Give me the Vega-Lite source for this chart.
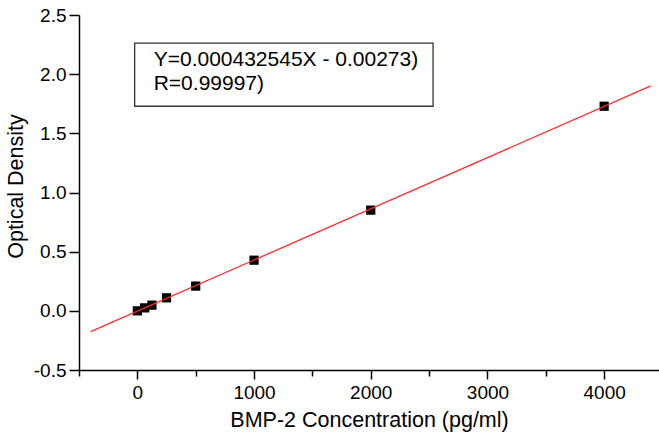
{
  "$schema": "https://vega.github.io/schema/vega-lite/v6.json",
  "width": 580,
  "height": 355,
  "autosize": "none",
  "padding": {"left": 79, "top": 15, "right": 0, "bottom": 67},
  "background": "white",
  "config": {
    "view": {"stroke": null},
    "font": "Liberation Sans",
    "axis": {
      "domainColor": "black",
      "domainWidth": 1.5,
      "tickColor": "black",
      "tickWidth": 1.5,
      "labelColor": "black",
      "titleColor": "black",
      "labelFont": "Liberation Sans",
      "titleFont": "Liberation Sans",
      "labelFontSize": 19,
      "titleFontSize": 21.5,
      "titleFontWeight": "normal",
      "grid": false,
      "labelOverlap": false,
      "labelFlush": false
    }
  },
  "datasets": {
    "points": [
      {"conc": 0, "od": 0.0},
      {"conc": 62.5, "od": 0.025},
      {"conc": 125, "od": 0.048},
      {"conc": 250, "od": 0.11},
      {"conc": 500, "od": 0.209},
      {"conc": 1000, "od": 0.428},
      {"conc": 2000, "od": 0.851},
      {"conc": 4000, "od": 1.729}
    ],
    "fit": [
      {"conc": -400, "od": -0.17575},
      {"conc": 4400, "od": 1.90047}
    ],
    "box": [
      {"conc": -23, "conc2": 2534, "od": 1.729, "od2": 2.263}
    ],
    "labels": [
      {"conc": 140, "od": 2.067, "label": "Y=0.000432545X - 0.00273)"},
      {"conc": 140, "od": 1.870, "label": "R=0.99997)"}
    ]
  },
  "layer": [
    {
      "data": {"name": "points"},
      "mark": {"type": "square", "filled": true, "color": "black", "size": 85, "opacity": 1},
      "encoding": {
        "x": {
          "field": "conc",
          "type": "quantitative",
          "scale": {"domain": [-500, 4470], "nice": false, "zero": false},
          "axis": {
            "title": "BMP-2 Concentration (pg/ml)",
            "values": [-500, 0, 500, 1000, 1500, 2000, 2500, 3000, 3500, 4000],
            "labelExpr": "datum.value % 1000 === 0 ? format(datum.value, 'd') : ''",
            "tickSize": {"condition": {"test": "datum.value % 1000 === 0", "value": 9}, "value": 6},
            "labelPadding": 4,
            "titlePadding": 7
          }
        },
        "y": {
          "field": "od",
          "type": "quantitative",
          "scale": {"domain": [-0.5, 2.5], "nice": false, "zero": false},
          "axis": {
            "title": "Optical Density",
            "values": [-0.5, -0.25, 0, 0.25, 0.5, 0.75, 1, 1.25, 1.5, 1.75, 2, 2.25, 2.5],
            "labelExpr": "abs(datum.value * 2 - round(datum.value * 2)) < 0.000001 ? replace(format(datum.value, '.1f'), '\u2212', '-') : ''",
            "tickSize": {"condition": {"test": "abs(datum.value * 2 - round(datum.value * 2)) < 0.000001", "value": 10}, "value": 6},
            "labelPadding": 3,
            "titleX": -52,
            "titleY": 171
          }
        }
      }
    },
    {
      "data": {"name": "box"},
      "mark": {"type": "rect", "fill": "white", "stroke": "#333", "strokeWidth": 1.3},
      "encoding": {
        "x": {"field": "conc", "type": "quantitative"},
        "x2": {"field": "conc2"},
        "y": {"field": "od", "type": "quantitative"},
        "y2": {"field": "od2"}
      }
    },
    {
      "data": {"name": "labels"},
      "mark": {"type": "text", "align": "left", "baseline": "alphabetic", "fontSize": 21, "font": "Liberation Sans", "color": "black"},
      "encoding": {
        "x": {"field": "conc", "type": "quantitative"},
        "y": {"field": "od", "type": "quantitative"},
        "text": {"field": "label"}
      }
    },
    {
      "data": {"name": "fit"},
      "mark": {"type": "line", "color": "#ff2a2a", "strokeWidth": 1.3},
      "encoding": {
        "x": {"field": "conc", "type": "quantitative"},
        "y": {"field": "od", "type": "quantitative"}
      }
    }
  ]
}
